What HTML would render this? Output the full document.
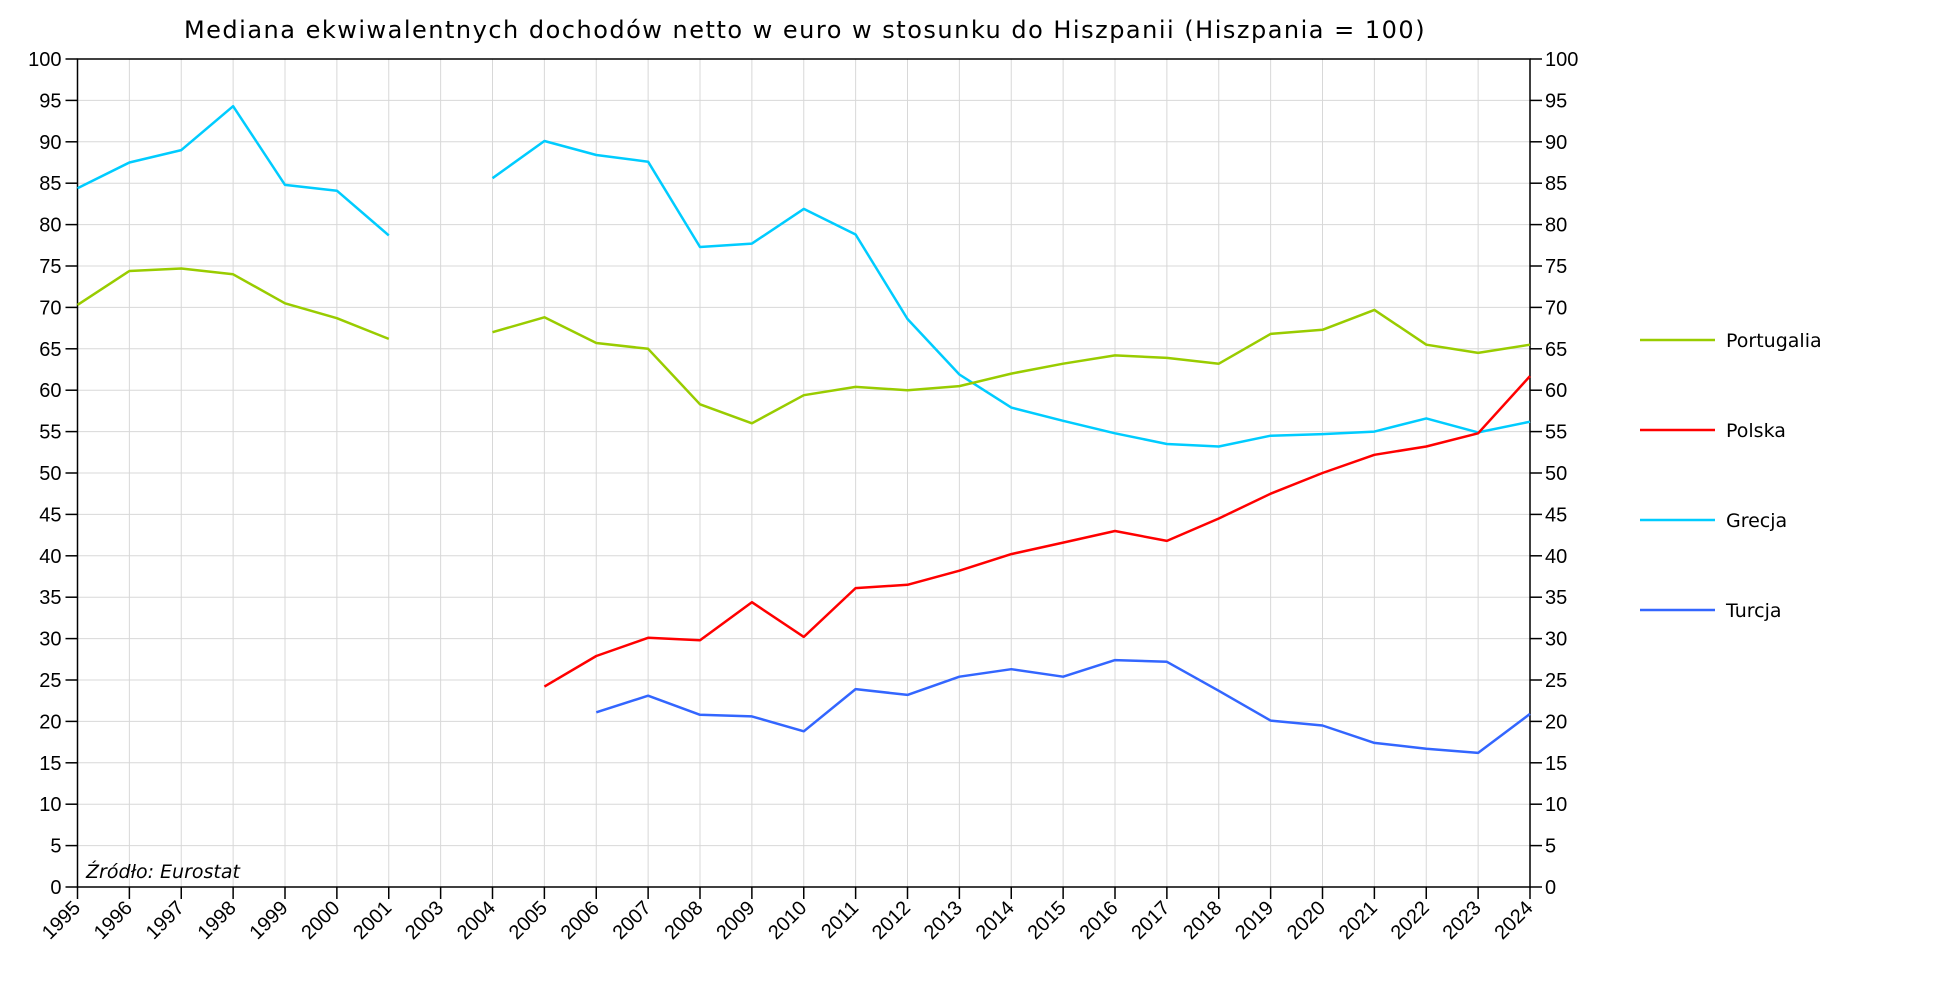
<!DOCTYPE html>
<html><head><meta charset="utf-8"><style>
html,body{margin:0;padding:0;background:#fff;width:1937px;height:986px;overflow:hidden}
text{font-family:"DejaVu Sans","Liberation Sans",sans-serif;fill:#000}
.t{font-family:"Liberation Sans","DejaVu Sans",sans-serif}
</style></head><body>
<svg id="s" width="1937" height="986" xmlns="http://www.w3.org/2000/svg"></svg>
<script>
const s=document.getElementById('s');
const X0=77.5,X1=1530,Y0=887,YT=59;
const yrs=[1995,1996,1997,1998,1999,2000,2001,2003,2004,2005,2006,2007,2008,2009,2010,2011,2012,2013,2014,2015,2016,2017,2018,2019,2020,2021,2022,2023,2024];
const st=(X1-X0)/28;
const px=i=>X0+i*st, py=v=>Y0-(Y0-YT)*v/100;
let h='';
for(let v=5;v<100;v+=5)h+=`<line x1="${X0}" x2="${X1}" y1="${py(v)}" y2="${py(v)}" stroke="#d8d8d8" stroke-width="1"/>`;
for(let i=1;i<28;i++)h+=`<line x1="${px(i)}" x2="${px(i)}" y1="${YT}" y2="${Y0}" stroke="#d8d8d8" stroke-width="1"/>`;
h+=`<rect x="${X0}" y="${YT}" width="${X1-X0}" height="${Y0-YT}" fill="none" stroke="#000" stroke-width="1.5"/>`;
for(let v=0;v<=100;v+=5){const y=py(v);
h+=`<line x1="${X0-12}" x2="${X0}" y1="${y}" y2="${y}" stroke="#000" stroke-width="1.5"/><line x1="${X1}" x2="${X1+12}" y1="${y}" y2="${y}" stroke="#000" stroke-width="1.5"/>`;
h+=`<text class="t" x="${X0-16}" y="${y+7}" font-size="20" text-anchor="end">${v}</text><text class="t" x="${X1+15}" y="${y+7}" font-size="20">${v}</text>`;}
yrs.forEach((yr,i)=>{const x=px(i);h+=`<line x1="${x}" x2="${x}" y1="${Y0}" y2="${Y0+12}" stroke="#000" stroke-width="1.5"/>`;
h+=`<text class="t" transform="translate(${x+4},${Y0+22}) rotate(-45)" font-size="20" text-anchor="end">${yr}</text>`;});
function line(start,arr,c){let segs=[],cur=[];arr.forEach((v,k)=>{if(v==null){if(cur.length)segs.push(cur);cur=[];}else cur.push(px(start+k).toFixed(1)+','+py(v).toFixed(1));});if(cur.length)segs.push(cur);
segs.forEach(sg=>h+=`<polyline points="${sg.join(' ')}" fill="none" stroke="${c}" stroke-width="2.5" stroke-linejoin="round"/>`);}
line(0,[84.4,87.5,89,94.3,84.8,84.1,78.7,null,85.6,90.1,88.4,87.6,77.3,77.7,81.9,78.8,68.6,61.9,57.9,56.3,54.8,53.5,53.2,54.5,54.7,55.0,56.6,54.9,56.2],'#00ccff');
line(0,[70.3,74.4,74.7,74.0,70.5,68.7,66.2,null,67.0,68.8,65.7,65.0,58.3,56.0,59.4,60.4,60.0,60.5,62.0,63.2,64.2,63.9,63.2,66.8,67.3,69.7,65.5,64.5,65.5],'#99cc00');
line(9,[24.2,27.9,30.1,29.8,34.4,30.2,36.1,36.5,38.2,40.2,41.6,43.0,41.8,44.5,47.5,50.0,52.2,53.2,54.8,61.7],'#ff0000');
line(10,[21.1,23.1,20.8,20.6,18.8,23.9,23.2,25.4,26.3,25.4,27.4,27.2,23.7,20.1,19.5,17.4,16.7,16.2,20.9],'#3366ff');
[['Portugalia','#99cc00',340],['Polska','#ff0000',430],['Grecja','#00ccff',520],['Turcja','#3366ff',610]].forEach(([n,c,y])=>{
h+=`<line x1="1640" x2="1715" y1="${y}" y2="${y}" stroke="${c}" stroke-width="2.5"/><text x="1726" y="${y+7}" font-size="19">${n}</text>`;});
h+=`<text x="86" y="878" font-size="19" font-style="italic">Źródło: Eurostat</text>`;
h+=`<text x="805" y="38" font-size="24" text-anchor="middle" letter-spacing="1.5">Mediana ekwiwalentnych dochodów netto w euro w stosunku do Hiszpanii (Hiszpania = 100)</text>`;
s.innerHTML=h;
</script>
</body></html>
